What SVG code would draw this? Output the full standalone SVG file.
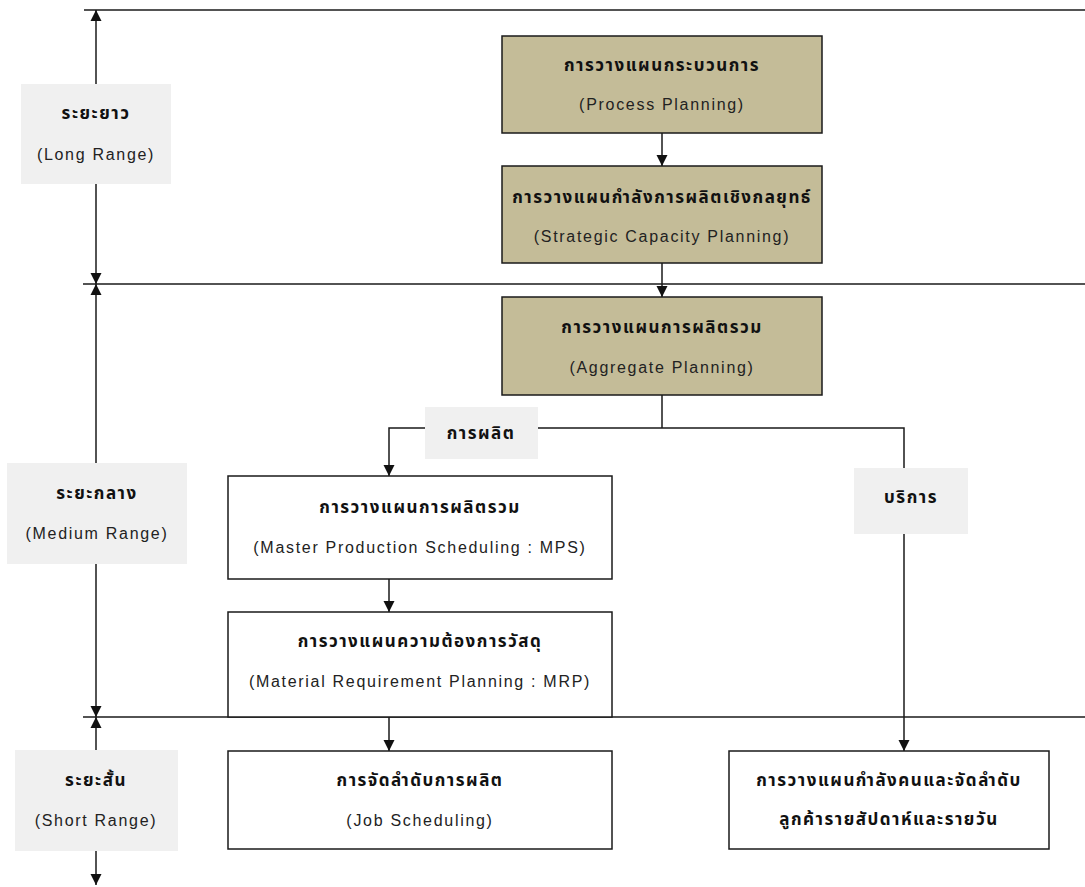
<svg xmlns="http://www.w3.org/2000/svg" width="1085" height="887" viewBox="0 0 1085 887">
<style>
.ln{stroke:#1a1a1a;stroke-width:1.5;fill:none}
.ar{marker-end:url(#ah)}
.tan{fill:#c4bc98;stroke:#1a1a1a;stroke-width:1.5}
.wht{fill:#ffffff;stroke:#1a1a1a;stroke-width:1.5}
.lbl{fill:#f0f0f0;stroke:none}
.th{font-family:"Noto Sans Thai","Noto Sans","Liberation Sans",sans-serif;font-size:17px;font-weight:bold;fill:#111;text-anchor:middle;letter-spacing:1.5px}
.en{font-family:"Liberation Sans",Arial,sans-serif;font-size:16px;fill:#222;text-anchor:middle;letter-spacing:1.7px}
</style>
<defs>
<marker id="ah" viewBox="0 0 10 10" refX="10" refY="5" markerWidth="11" markerHeight="12" markerUnits="userSpaceOnUse" orient="auto">
<path d="M0,0 L10,5 L0,10 z" fill="#111"/>
</marker>
</defs>
<g id="connectors">
<path class="ln" d="M84,10 H1085"/>
<path class="ln" d="M83,284 H1085"/>
<path class="ln" d="M83,717 H1085"/>
<path class="ln ar" d="M96,84 V10"/>
<path class="ln ar" d="M96,184 V284"/>
<path class="ln ar" d="M96,463 V284"/>
<path class="ln ar" d="M96,564 V717"/>
<path class="ln ar" d="M96,750 V717"/>
<path class="ln ar" d="M96,851 V885"/>
<path class="ln ar" d="M662,133 V166"/>
<path class="ln ar" d="M662,263 V297"/>
<path class="ln" d="M662,395 V428"/>
<path class="ln ar" d="M425,428 H389 V476"/>
<path class="ln" d="M538,428 H904 V468"/>
<path class="ln ar" d="M904,534 V751"/>
<path class="ln ar" d="M389,579 V612"/>
<path class="ln ar" d="M389,717 V751"/>
</g>
<g id="long-range">
<rect class="lbl" x="21" y="84" width="150" height="100"/>
<text class="th" x="96" y="119">ระยะยาว</text>
<text class="en" x="96" y="160">(Long Range)</text>
</g>
<g id="medium-range">
<rect class="lbl" x="7" y="463" width="180" height="101"/>
<text class="th" x="97" y="499">ระยะกลาง</text>
<text class="en" x="97" y="539">(Medium Range)</text>
</g>
<g id="short-range">
<rect class="lbl" x="15" y="750" width="163" height="101"/>
<text class="th" x="96" y="786">ระยะสั้น</text>
<text class="en" x="96" y="826">(Short Range)</text>
</g>
<g id="process-planning">
<rect class="tan" x="502" y="36" width="320" height="97"/>
<text class="th" x="662" y="71">การวางแผนกระบวนการ</text>
<text class="en" x="662" y="110">(Process Planning)</text>
</g>
<g id="strategic-capacity">
<rect class="tan" x="502" y="166" width="320" height="97"/>
<text class="th" x="662" y="203">การวางแผนกำลังการผลิตเชิงกลยุทธ์</text>
<text class="en" x="662" y="242">(Strategic Capacity Planning)</text>
</g>
<g id="aggregate-planning">
<rect class="tan" x="502" y="297" width="320" height="98"/>
<text class="th" x="662" y="333">การวางแผนการผลิตรวม</text>
<text class="en" x="662" y="373">(Aggregate Planning)</text>
</g>
<g id="production-label">
<rect class="lbl" x="425" y="407" width="113" height="52"/>
<text class="th" x="481" y="439">การผลิต</text>
</g>
<g id="service-label">
<rect class="lbl" x="854" y="468" width="114" height="66"/>
<text class="th" x="911" y="503">บริการ</text>
</g>
<g id="mps">
<rect class="wht" x="228" y="476" width="384" height="103"/>
<text class="th" x="420" y="513">การวางแผนการผลิตรวม</text>
<text class="en" x="420" y="553">(Master Production Scheduling : MPS)</text>
</g>
<g id="mrp">
<rect class="wht" x="228" y="612" width="384" height="105"/>
<text class="th" x="420" y="647">การวางแผนความต้องการวัสดุ</text>
<text class="en" x="420" y="687">(Material Requirement Planning : MRP)</text>
</g>
<g id="job-scheduling">
<rect class="wht" x="228" y="751" width="384" height="98"/>
<text class="th" x="420" y="786">การจัดลำดับการผลิต</text>
<text class="en" x="420" y="826">(Job Scheduling)</text>
</g>
<g id="workforce-scheduling">
<rect class="wht" x="729" y="751" width="320" height="98"/>
<text class="th" x="889" y="786">การวางแผนกำลังคนและจัดลำดับ</text>
<text class="th" x="889" y="825">ลูกค้ารายสัปดาห์และรายวัน</text>
</g>
</svg>
